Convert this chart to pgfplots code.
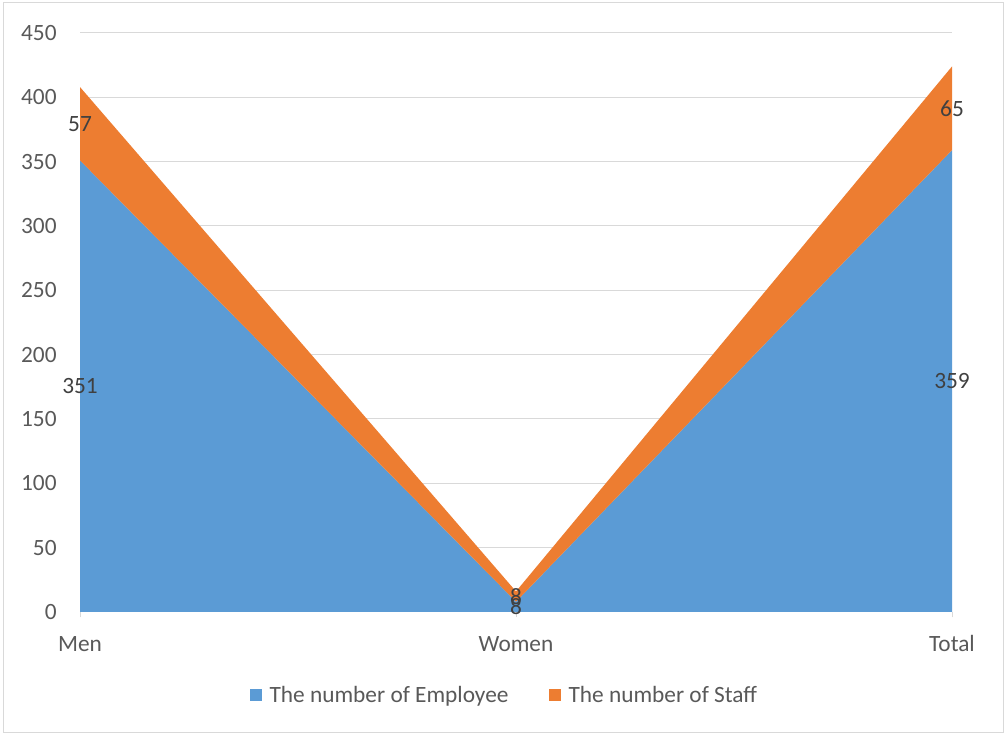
\documentclass[border=0pt]{standalone}
\usepackage{pgfplots}
\pgfplotsset{compat=1.18}
\usepackage{fontspec}
\setmainfont{Carlito}
\definecolor{cblue}{HTML}{5B9BD5}
\definecolor{corange}{HTML}{ED7D31}
\definecolor{ctext}{HTML}{595959}
\definecolor{cgrid}{HTML}{D9D9D9}
\begin{document}
\begin{tikzpicture}
\path (0pt,0pt) rectangle (754.5pt,550.5pt);
\draw[cgrid, line width=0.75pt] (2.5pt,1pt) rectangle (752.5pt,548.5pt);
\begin{axis}[
  at={(60pt,91.5pt)}, anchor=south west,
  scale only axis, width=654pt, height=434.25pt,
  xmin=0, xmax=2, ymin=0, ymax=450,
  xtick={0,1,2}, xticklabels={Men,Women,Total},
  ytick={0,50,...,450},
  font=\fontsize{17.5}{21}\selectfont,
  /pgf/number format/assume math mode=true,
  ticklabel style={text=ctext, font=\fontsize{17.5}{21}\selectfont},
  xticklabel style={yshift=-10pt, text height=12pt, text depth=4pt},
  yticklabel style={xshift=-10pt},
  ymajorgrids, grid style={cgrid, line width=0.75pt},
  axis y line*=left, y axis line style={draw=none},
  axis x line*=bottom, x axis line style={cgrid, line width=0.75pt, -},
  ytick style={draw=none},
  xtick style={cgrid, line width=0.75pt},
  tick align=outside, major tick length=4pt,
  legend style={draw=none, at={(0.487,-0.1434)}, anchor=center,
    legend columns=-1, font=\fontsize{17.5}{21}\selectfont, text=ctext,
    /tikz/every odd column/.append style={column sep=4pt},
    /tikz/every even column/.append style={column sep=28pt}},
  legend image code/.code={\fill[#1, draw=none] (0pt,-4.5pt) rectangle (9pt,4.5pt);},
  clip=false,
]
\addplot[stack plots=y, fill=cblue, draw=none, forget plot] coordinates {(0,351) (1,8) (2,359)} \closedcycle;
\addplot[stack plots=y, fill=corange, draw=none, forget plot] coordinates {(0,57) (1,8) (2,65)} \closedcycle;
\addlegendimage{fill=cblue, draw=none}
\addlegendentry{The number of Employee}
\addlegendimage{fill=corange, draw=none}
\addlegendentry{The number of Staff}
\addplot[only marks, mark=none, nodes near coords, point meta=explicit symbolic,
  every node near coord/.append style={anchor=center, text=black!75, font=\fontsize{17.5}{21}\selectfont}]
  table[meta=label] {
x y label
0 175.5 351
1 4 8
2 179.5 359
0 379.5 57
1 12 8
2 391.5 65
};
\end{axis}
\end{tikzpicture}
\end{document}
